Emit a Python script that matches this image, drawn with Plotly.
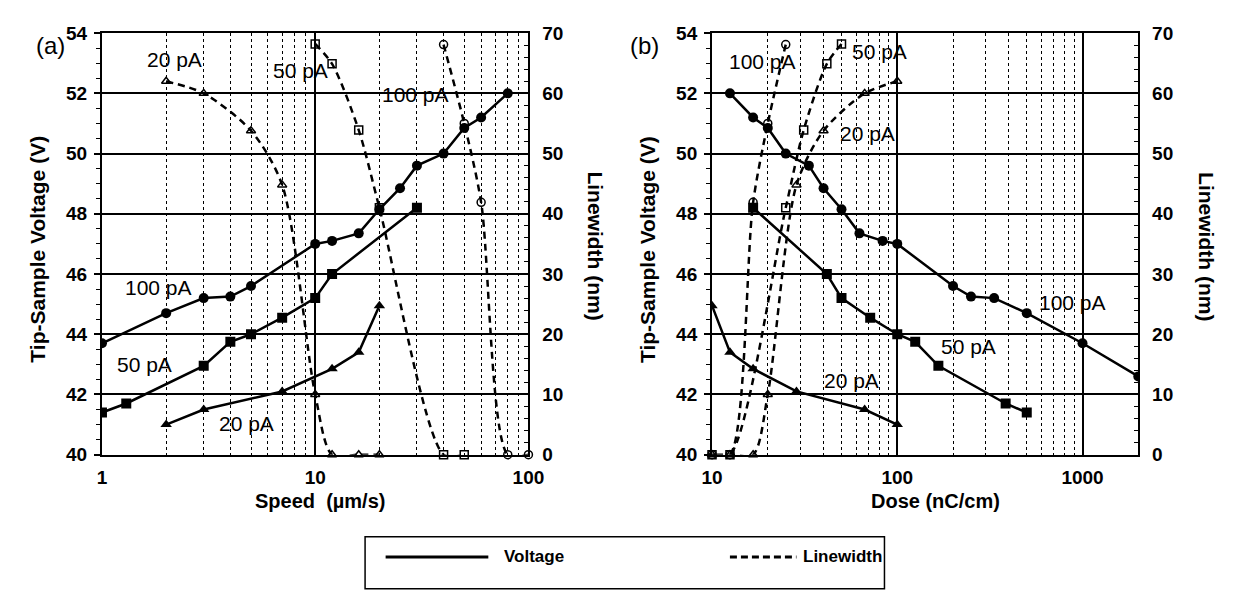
import math
import plotly.graph_objects as go

# ---------------- data ----------------
# Tip-sample voltage (V) vs writing speed (um/s), per tip current
speed_v_100 = [0.5, 1, 2, 3, 4, 5, 10, 12, 16, 20, 25, 30, 40, 50, 60, 80]
volt_100 = [42.6, 43.7, 44.7, 45.2, 45.25, 45.6, 47.0, 47.1, 47.35, 48.15, 48.85, 49.6, 50.0, 50.85, 51.2, 52.0]
speed_v_50 = [1, 1.3, 3, 4, 5, 7, 10, 12, 30]
volt_50 = [41.4, 41.7, 42.95, 43.75, 44.0, 44.55, 45.2, 46.0, 48.2]
speed_v_20 = [2, 3, 7, 12, 16, 20]
volt_20 = [41.0, 41.5, 42.1, 42.85, 43.4, 44.95]

# Linewidth (nm) vs writing speed (um/s)
speed_w_100 = [40, 50, 60, 80, 100]
width_100 = [68.1, 55.0, 41.9, 0, 0]
speed_w_50 = [10, 12, 16, 20, 40, 50]
width_50 = [68.2, 64.9, 53.9, 41.0, 0, 0]
speed_w_20 = [2, 3, 5, 7, 10, 12, 16, 20]
width_20 = [62.0, 60.0, 53.8, 44.8, 10.0, 0, 0, 0]

currents_pA = [100, 50, 20]
x_ticks_a = [1, 10, 100]
x_ticks_b = [10, 100, 1000]
v_ticks = [40, 42, 44, 46, 48, 50, 52, 54]
w_ticks = [0, 10, 20, 30, 40, 50, 60, 70]


def dose(current, speeds):
    # line dose in nC/cm = I[pA] / v[um/s] * 10
    return [current / s * 10.0 for s in speeds]


W, H = 1234, 593
FONT = "Liberation Sans, Arial, Helvetica, sans-serif"


def px(x):
    return x / W


def py(y):
    return 1 - y / H


dom_xa = [px(93), px(529)]
dom_xb = [px(716.7), px(1152.5)]
dom_y = [py(461), py(24)]

fig = go.Figure()

volt_sets = [(speed_v_100, volt_100, "circle"), (speed_v_50, volt_50, "square"), (speed_v_20, volt_20, "triangle-up")]
width_sets = [(speed_w_100, width_100, "circle-open"), (speed_w_50, width_50, "square-open"), (speed_w_20, width_20, "triangle-up-open")]

for panel, (xa, yv, yw) in enumerate([("x", "y", "y2"), ("x2", "y3", "y4")]):
    for cur, (sp, vals, sym) in zip(currents_pA, volt_sets):
        xs = sp if panel == 0 else dose(cur, sp)
        fig.add_trace(go.Scatter(
            x=xs, y=vals, xaxis=xa, yaxis=yv, mode="lines+markers",
            line=dict(color="black", width=2.5),
            marker=dict(symbol=sym, size=10, color="black"),
            showlegend=False, cliponaxis=True))
    for cur, (sp, vals, sym) in zip(currents_pA, width_sets):
        xs = sp if panel == 0 else dose(cur, sp)
        fig.add_trace(go.Scatter(
            x=xs, y=vals, xaxis=xa, yaxis=yw, mode="lines+markers",
            line=dict(color="black", width=2.5, dash="7px,5px", shape="spline", smoothing=0.8),
            marker=dict(symbol=sym, size=8, color="black", line=dict(width=1.5, color="black")),
            showlegend=False, cliponaxis=False))

tickfont = dict(family=FONT, size=19, color="black", weight="bold")


def xaxis_cfg(domain, rng, ticks, minor_vals, anchor):
    return dict(
        type="log", domain=domain, range=rng, anchor=anchor,
        tickvals=ticks, ticktext=[str(t) for t in ticks], ticks="",
        tickfont=tickfont, ticklabelstandoff=5,
        showline=True, linecolor="black", linewidth=2, mirror=True,
        showgrid=True, gridcolor="black", gridwidth=1.5,
        minor=dict(tickvals=minor_vals, showgrid=True, gridcolor="black", gridwidth=1, griddash="dot", ticks=""),
        zeroline=False)


def yv_cfg(anchor):
    return dict(
        domain=dom_y, range=[40, 54], anchor=anchor,
        tickvals=v_ticks, ticks="outside", ticklen=6, tickwidth=1.5, tickcolor="black",
        tickfont=tickfont, ticklabelstandoff=3,
        showline=True, linecolor="black", linewidth=2,
        showgrid=True, gridcolor="black", gridwidth=1.5,
        minor=dict(dtick=0.5, ticks="outside", ticklen=4, tickwidth=1, tickcolor="black", showgrid=False),
        zeroline=False)


def yw_cfg(anchor, overlay):
    return dict(
        domain=dom_y, range=[0, 70], anchor=anchor, overlaying=overlay, side="right",
        tickvals=w_ticks, ticks="inside", ticklen=6, tickwidth=1.5, tickcolor="black",
        tickfont=tickfont, ticklabelstandoff=8,
        showline=True, linecolor="black", linewidth=2,
        showgrid=False,
        minor=dict(dtick=2, ticks="inside", ticklen=4, tickwidth=1, tickcolor="black", showgrid=False),
        zeroline=False)


minor_a = [m * 10 ** e for e in (0, 1) for m in range(2, 10)]
minor_b = [m * 10 ** e for e in (1, 2, 3) for m in range(2, 10)]

fig.update_layout(
    width=W, height=H, margin=dict(l=0, r=0, t=0, b=0),
    paper_bgcolor="white", plot_bgcolor="white",
    font=dict(family=FONT, color="black"),
    showlegend=False,
    xaxis=xaxis_cfg(dom_xa, [0, 2], x_ticks_a, minor_a, "y"),
    yaxis=yv_cfg("x"),
    yaxis2=yw_cfg("x", "y"),
    xaxis2=xaxis_cfg(dom_xb, [1, 3.301], x_ticks_b, minor_b, "y3"),
    yaxis3=yv_cfg("x2"),
    yaxis4=yw_cfg("x2", "y3"),
)

ann = []
lab_font = dict(family=FONT, size=21, color="black")
# series labels (x given as log10 for log axes)
labels_a = [("20 pA", 2.18, 53.14), ("50 pA", 8.5, 52.76), ("100 pA", 29.4, 51.96),
            ("100 pA", 1.85, 45.54), ("50 pA", 1.58, 42.98), ("20 pA", 4.77, 41.03)]
labels_b = [("100 pA", 18.7, 53.07), ("50 pA", 80, 53.39), ("20 pA", 69, 50.66),
            ("100 pA", 880, 45.07), ("50 pA", 242, 43.6), ("20 pA", 56.4, 42.47)]
for t, xv, yv in labels_a:
    ann.append(dict(text=t, x=math.log10(xv), y=yv, xref="x", yref="y", showarrow=False, font=lab_font))
for t, xv, yv in labels_b:
    ann.append(dict(text=t, x=math.log10(xv), y=yv, xref="x2", yref="y3", showarrow=False, font=lab_font))

title_font = dict(family=FONT, size=21, color="black", weight="bold")
xt_font = dict(family=FONT, size=20, color="black", weight="bold")
for xc, txt in [(27, "Tip-Sample Voltage (V)"), (650, "Tip-Sample Voltage (V)")]:
    ann.append(dict(text=txt, x=px(xc), y=py(248), xref="paper", yref="paper", showarrow=False,
                    textangle=-90, font=title_font, xanchor="center", yanchor="middle"))
for xc, txt in [(598, "Linewidth (nm)"), (1222, "Linewidth (nm)")]:
    ann.append(dict(text=txt, x=px(xc), y=py(245), xref="paper", yref="paper", showarrow=False,
                    textangle=90, font=title_font, xanchor="center", yanchor="middle"))
ann.append(dict(text="Speed  (\u00b5m/s)", x=px(316), y=py(509), xref="paper", yref="paper",
                showarrow=False, font=xt_font, xanchor="center", yanchor="middle"))
ann.append(dict(text="Dose (nC/cm)", x=px(945), y=py(509), xref="paper", yref="paper",
                showarrow=False, font=xt_font, xanchor="center", yanchor="middle"))
panel_font = dict(family=FONT, size=24, color="black")
ann.append(dict(text="(a)", x=px(24), y=py(21), xref="paper", yref="paper", showarrow=False, font=panel_font))
ann.append(dict(text="(b)", x=px(648), y=py(21), xref="paper", yref="paper", showarrow=False, font=panel_font))

# legend box
leg_font = dict(family=FONT, size=17, color="black", weight="bold")
ann.append(dict(text="Voltage", x=px(502), y=py(567), xref="paper", yref="paper", showarrow=False,
                font=leg_font, xanchor="left", yanchor="middle"))
ann.append(dict(text="Linewidth", x=px(808), y=py(567), xref="paper", yref="paper", showarrow=False,
                font=leg_font, xanchor="left", yanchor="middle"))

shapes = [
    dict(type="rect", xref="paper", yref="paper", x0=px(362), x1=px(893), y0=py(600), y1=py(546),
         line=dict(color="black", width=1.5), fillcolor="rgba(0,0,0,0)"),
    dict(type="line", xref="paper", yref="paper", x0=px(383), x1=px(488), y0=py(567), y1=py(567),
         line=dict(color="black", width=3)),
    dict(type="line", xref="paper", yref="paper", x0=px(735), x1=px(803), y0=py(567), y1=py(567),
         line=dict(color="black", width=3, dash="7px,4px")),
]

fig.update_layout(annotations=ann, shapes=shapes)
fig.write_html("out.html")
